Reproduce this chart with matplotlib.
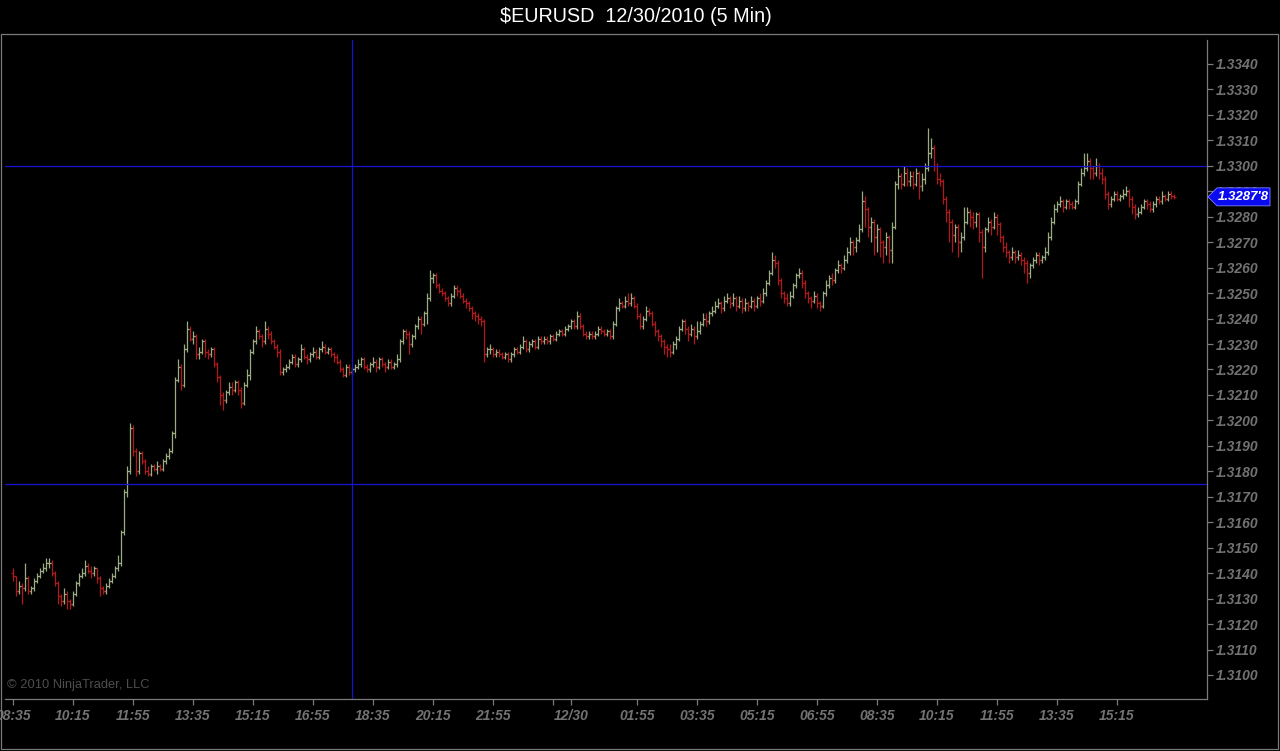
import matplotlib
matplotlib.use("Agg")
import matplotlib.pyplot as plt
from matplotlib.patches import Polygon, Rectangle
from matplotlib.transforms import IdentityTransform
import numpy as np

# prices are stored in pips above 1.3100 (5 minute bars, 12/29 08:35 onwards)
base_price = 1.3100
first_open = 40

closes = [
    39, 33, 35, 34, 38, 33, 34, 37, 39, 41, 42, 44, 44, 40, 36, 31, 29, 32, 29, 28,
    32, 36, 39, 40, 43, 41, 40, 42, 38, 34, 33, 35, 37, 39, 42, 44, 56, 72, 80, 97,
    88, 80, 87, 84, 80, 79, 82, 81, 82, 81, 84, 86, 88, 95, 116, 121, 114, 128, 136, 132,
    133, 126, 127, 131, 127, 126, 128, 122, 117, 110, 108, 111, 113, 112, 115, 112, 107, 114, 118, 127,
    131, 135, 133, 131, 136, 134, 131, 129, 127, 119, 120, 121, 123, 125, 122, 124, 128, 125, 124, 126,
    127, 125, 128, 129, 127, 128, 126, 125, 123, 120, 118, 121, 119, 120, 121, 122, 124, 121, 120, 122,
    123, 121, 124, 122, 121, 123, 121, 122, 124, 131, 135, 134, 130, 133, 137, 140, 138, 142, 148, 156,
    157, 153, 151, 150, 148, 146, 149, 152, 151, 149, 147, 146, 144, 142, 141, 140, 139, 126, 128, 128,
    126, 127, 126, 125, 126, 124, 126, 128, 127, 129, 131, 128, 130, 131, 129, 132, 131, 132, 131, 133,
    132, 134, 135, 134, 136, 137, 139, 137, 141, 137, 134, 133, 134, 133, 134, 136, 135, 134, 135, 133,
    138, 144, 146, 145, 147, 146, 148, 145, 141, 137, 140, 143, 142, 138, 135, 133, 131, 129, 128, 127,
    130, 132, 136, 139, 136, 134, 136, 133, 135, 138, 140, 139, 142, 143, 145, 146, 144, 147, 148, 146,
    148, 145, 147, 144, 146, 145, 147, 145, 148, 147, 150, 154, 158, 163, 162, 155, 150, 148, 146, 149,
    153, 157, 158, 154, 150, 148, 147, 149, 146, 145, 150, 153, 156, 155, 159, 161, 160, 163, 166, 170,
    168, 171, 175, 186, 183, 176, 178, 172, 175, 170, 168, 172, 167, 176, 193, 196, 193, 197, 194, 196,
    193, 197, 192, 195, 199, 205, 207, 200, 195, 194, 187, 182, 178, 173, 176, 170, 172, 178, 182, 180,
    178, 181, 174, 168, 175, 178, 176, 180, 177, 172, 168, 166, 164, 166, 164, 165, 163, 162, 158, 161,
    163, 165, 163, 164, 166, 172, 178, 183, 185, 186, 184, 186, 185, 184, 186, 193, 197, 199, 202, 199,
    197, 200, 197, 195, 189, 185, 187, 189, 187, 188, 189, 190, 187, 184, 181, 182, 184, 186, 185, 183,
    185, 187, 186, 188, 187, 189, 188, 187.8,
]

highs = [
    42, 39, 37, 36, 44, 39, 35, 38, 40, 42, 44, 46, 46, 45, 41, 37, 32, 34, 33, 30,
    33, 37, 40, 42, 45, 44, 43, 43, 42, 39, 35, 36, 38, 40, 43, 47, 57, 73, 82, 99,
    98, 89, 88, 88, 85, 82, 83, 83, 84, 83, 85, 87, 89, 96, 117, 124, 122, 130, 139, 137,
    135, 134, 129, 132, 132, 128, 129, 129, 123, 118, 111, 112, 115, 115, 116, 116, 113, 115, 120, 128,
    132, 137, 136, 134, 139, 137, 135, 132, 130, 128, 121, 122, 124, 126, 126, 125, 130, 129, 126, 127,
    129, 128, 129, 131, 130, 129, 129, 127, 126, 124, 121, 122, 122, 121, 122, 124, 125, 125, 122, 123,
    125, 124, 125, 125, 123, 124, 124, 123, 126, 132, 136, 136, 135, 134, 138, 141, 141, 143, 150, 159,
    158, 158, 154, 152, 151, 149, 150, 153, 153, 152, 150, 148, 147, 145, 143, 142, 141, 140, 129, 130,
    129, 128, 128, 127, 127, 127, 127, 129, 129, 130, 133, 132, 131, 132, 132, 133, 133, 133, 133, 134,
    134, 135, 136, 136, 137, 138, 140, 140, 143, 142, 138, 135, 135, 135, 135, 137, 137, 136, 136, 136,
    139, 145, 148, 147, 149, 150, 150, 149, 146, 142, 141, 145, 144, 143, 139, 136, 134, 132, 130, 130,
    131, 133, 137, 140, 140, 137, 138, 137, 139, 139, 142, 142, 143, 145, 147, 148, 147, 149, 150, 149,
    150, 149, 149, 148, 148, 147, 149, 148, 149, 150, 152, 155, 159, 166, 165, 163, 156, 151, 150, 151,
    154, 158, 160, 159, 155, 151, 149, 151, 150, 147, 151, 155, 157, 158, 160, 163, 162, 165, 168, 172,
    171, 172, 177, 190, 188, 184, 180, 179, 177, 176, 171, 174, 173, 178, 194, 199, 197, 200, 199, 198,
    198, 199, 198, 197, 201, 215, 211, 208, 201, 197, 195, 188, 183, 179, 177, 177, 174, 184, 184, 183,
    182, 182, 182, 175, 176, 180, 179, 182, 181, 178, 173, 170, 167, 168, 167, 167, 166, 164, 163, 162,
    164, 166, 166, 165, 168, 174, 180, 185, 186, 188, 187, 187, 187, 186, 187, 194, 199, 205, 205, 203,
    200, 203, 201, 199, 196, 190, 188, 190, 190, 189, 191, 192, 191, 188, 185, 184, 185, 187, 187, 186,
    186, 188, 188, 190, 189, 190, 190, 189,
]

lows = [
    37, 31, 32, 28, 33, 32, 32, 33, 36, 38, 40, 41, 42, 39, 35, 28, 27, 28, 26, 26,
    27, 31, 35, 38, 39, 40, 38, 39, 36, 31, 32, 32, 34, 36, 38, 41, 43, 55, 70, 79,
    86, 78, 79, 83, 79, 78, 78, 80, 79, 80, 80, 83, 85, 87, 93, 115, 112, 113, 127, 131,
    130, 124, 124, 126, 125, 124, 125, 121, 115, 106, 104, 107, 110, 110, 111, 110, 105, 106, 113, 116,
    126, 130, 132, 129, 130, 132, 130, 128, 125, 118, 118, 119, 120, 122, 121, 121, 123, 124, 122, 123,
    125, 124, 124, 127, 126, 126, 125, 123, 122, 119, 117, 117, 118, 118, 119, 120, 121, 120, 119, 119,
    121, 119, 120, 121, 119, 120, 120, 120, 121, 123, 130, 132, 126, 129, 132, 136, 134, 137, 138, 147,
    154, 152, 150, 149, 147, 145, 145, 148, 149, 148, 146, 144, 143, 140, 139, 138, 137, 123, 125, 126,
    125, 125, 125, 124, 124, 123, 123, 125, 126, 126, 128, 127, 127, 129, 128, 128, 130, 130, 130, 130,
    131, 131, 133, 133, 133, 135, 136, 136, 136, 136, 133, 132, 132, 132, 132, 133, 134, 133, 133, 132,
    132, 137, 143, 144, 144, 145, 145, 144, 140, 136, 136, 139, 141, 137, 133, 131, 129, 126, 125, 125,
    126, 128, 131, 135, 134, 131, 133, 130, 132, 134, 137, 137, 138, 141, 142, 144, 142, 143, 146, 144,
    145, 143, 144, 142, 143, 143, 144, 143, 144, 145, 146, 149, 153, 157, 160, 153, 148, 146, 145, 145,
    148, 152, 156, 152, 148, 146, 144, 146, 144, 143, 144, 149, 152, 153, 154, 158, 158, 159, 162, 165,
    165, 166, 170, 174, 176, 172, 170, 165, 166, 164, 162, 165, 162, 162, 175, 191, 191, 192, 192, 192,
    191, 192, 187, 190, 193, 198, 203, 198, 193, 192, 185, 178, 170, 166, 170, 164, 166, 171, 177, 176,
    175, 176, 170, 156, 166, 174, 173, 175, 173, 170, 166, 164, 162, 163, 162, 163, 161, 158, 154, 156,
    160, 162, 161, 162, 163, 165, 171, 177, 182, 184, 182, 183, 183, 183, 183, 185, 192, 196, 198, 195,
    195, 196, 195, 193, 187, 183, 184, 186, 186, 186, 187, 188, 184, 181, 179, 180, 181, 183, 183, 182,
    182, 184, 185, 185, 186, 186, 187, 187,
]

# x axis labels (bar index -> label)
tick_bars = [0, 20, 40, 60, 80, 100, 120, 140, 160, 180, 186, 208, 228, 248, 268, 288, 308, 328, 348, 368]
tick_labels = ["08:35", "10:15", "11:55", "13:35", "15:15", "16:55", "18:35", "20:15", "21:55", "",
               "12/30", "01:55", "03:35", "05:15", "06:55", "08:35", "10:15", "11:55", "13:35", "15:15"]

price_ticks = [1.3100 + k * 0.001 for k in range(25)]
hlines_prices = [1.3300, 1.3175]
vline_bar = 113
last_label = "1.3287'8"

title = "$EURUSD  12/30/2010 (5 Min)"

# --- build OHLC ---
c = base_price + np.array(closes) / 10000.0
h = base_price + np.array(highs) / 10000.0
l = base_price + np.array(lows) / 10000.0
o = np.concatenate([[base_price + first_open / 10000.0], c[:-1]])
x = np.arange(len(c))

up_col = "#9bab84"
dn_col = "#b3191c"
cols = [up_col if cc >= oo else dn_col for oo, cc in zip(o, c)]

W, H = 1280, 751
fig = plt.figure(figsize=(W / 100, H / 100), dpi=100, facecolor="black")
ax = fig.add_axes([5 / W, 1 - 699 / H, (1207 - 5) / W, (699 - 40) / H])
ax.set_facecolor("black")

ax.vlines(x, l, h, colors=cols, linewidth=0.9)
ax.hlines(o, x - 0.75, x, colors=cols, linewidth=0.9)
ax.hlines(c, x, x + 0.75, colors=cols, linewidth=0.9)

for p in hlines_prices:
    ax.axhline(p, color="#1414d2", linewidth=0.9)
ax.axvline(vline_bar, color="#1414d2", linewidth=0.9)

ax.set_xlim(-2.67, 398)
ax.set_ylim(1.309057, 1.334940)

grey = "#7a7a7a"
for s in ["top", "left"]:
    ax.spines[s].set_visible(False)
for s in ["right", "bottom"]:
    ax.spines[s].set_color(grey)
    ax.spines[s].set_linewidth(0.9)

ax.yaxis.tick_right()
ax.set_yticks(price_ticks)
ax.set_yticklabels(["%.4f" % p for p in price_ticks])
ax.set_xticks(tick_bars)
ax.set_xticklabels(tick_labels)
ax.tick_params(colors=grey, length=4, width=0.9)
ax.tick_params(axis="y", pad=2)
ax.tick_params(axis="x", pad=3)
for t in ax.get_xticklabels() + ax.get_yticklabels():
    t.set_fontfamily("Liberation Sans")
    t.set_fontsize(10)
    t.set_fontweight("bold")
    t.set_fontstyle("italic")
    t.set_color("#727272")

# outer frame
fig.patches.append(Rectangle((1 / W, 1 - 749 / H), 1277 / W, 715 / H, transform=fig.transFigure,
                             fill=False, edgecolor=grey, linewidth=0.9))

fig.text(636 / W, 1 - 17 / H, title, color="white", fontsize=14.2, ha="center", va="center",
         family="Liberation Sans")
ax.text(0.0015, 0.012, "\u00a9 2010 NinjaTrader, LLC", transform=ax.transAxes, color="#4d4d4d",
        fontsize=9.3, family="Liberation Sans", ha="left", va="bottom")

# last price marker
fig.canvas.draw()
px, py = ax.transData.transform((x[-1], c[-1]))
x0 = ax.transAxes.transform((1, 0))[0]
hh = 9
shape = [(x0 + 1, py), (x0 + 10, py + hh), (x0 + 63, py + hh), (x0 + 63, py - hh), (x0 + 10, py - hh)]
fig.patches.append(Polygon(shape, closed=True, transform=IdentityTransform(), facecolor="#0a0af0",
                           edgecolor="#8080ff", linewidth=0.6))
fig.text((x0 + 36) / W, py / H, last_label, color="white", fontsize=9.5, fontweight="bold",
         fontstyle="italic", family="Liberation Sans", ha="center", va="center")

fig.savefig("out.png", dpi=100, facecolor="black")
